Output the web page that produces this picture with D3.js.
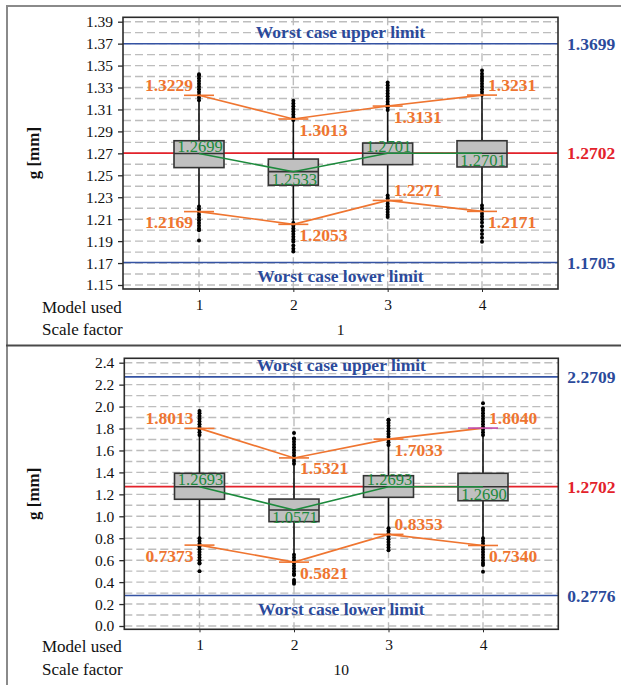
<!DOCTYPE html>
<html>
<head>
<meta charset="utf-8">
<script src="https://cdn.jsdelivr.net/npm/d3@7"></script>
<style>
  html, body { margin: 0; padding: 0; background: #fff; }
  svg { display: block; }
  svg text { font-family: "Liberation Serif", "Times New Roman", Tinos, "DejaVu Serif", "Noto Serif", serif !important; }
</style>
</head>
<body>
<svg id="chart" width="621" height="685"></svg>
<script>
// ---------------- DATA ----------------
const models = [1, 2, 3, 4];
const scaleFactors = ["1", "10"];
const axisTitle = "g [mm]";
const limitNames = ["Worst case upper limit", "Worst case lower limit"];

// Scale factor 1
const yTicks1 = [1.15, 1.17, 1.19, 1.21, 1.23, 1.25, 1.27, 1.29, 1.31, 1.33, 1.35, 1.37, 1.39];
const median1 = [1.2699, 1.2533, 1.2701, 1.2701];
const boxLow1 = [1.2570, 1.2410, 1.2597, 1.2576];
const boxHigh1 = [1.2815, 1.2648, 1.2794, 1.2815];
const whiskerLow1 = [1.2220, 1.2070, 1.2320, 1.2230];
const whiskerHigh1 = [1.3180, 1.3000, 1.3090, 1.3230];
const outliers1 = [
  [1.3185, 1.321, 1.3235, 1.326, 1.3285, 1.331, 1.3335, 1.336, 1.3385, 1.341, 1.342,
   1.2215, 1.219, 1.2165, 1.214, 1.2115, 1.209, 1.2065, 1.204, 1.2015, 1.2000, 1.1905],
  [1.3005, 1.303, 1.3055, 1.308, 1.3105, 1.313, 1.3155, 1.318,
   1.2065, 1.204, 1.2015, 1.199, 1.1965, 1.194, 1.1915, 1.1895, 1.186, 1.183, 1.1805],
  [1.3095, 1.312, 1.3145, 1.317, 1.3195, 1.322, 1.3245, 1.327, 1.3295, 1.332, 1.3345,
   1.2315, 1.229, 1.2265, 1.224, 1.2215, 1.219, 1.2165, 1.214, 1.212],
  [1.3235, 1.326, 1.3285, 1.331, 1.3335, 1.336, 1.338, 1.340, 1.3425, 1.3455,
   1.2225, 1.220, 1.2175, 1.215, 1.2125, 1.210, 1.207, 1.2035, 1.200, 1.1965, 1.193, 1.1895]
];
const upper1 = [1.3229, 1.3013, 1.3131, 1.3231];
const lower1 = [1.2169, 1.2053, 1.2271, 1.2171];
const limits1 = [1.3699, 1.2702, 1.1705];

// Scale factor 10
const yTicks10 = [0.0, 0.2, 0.4, 0.6, 0.8, 1.0, 1.2, 1.4, 1.6, 1.8, 2.0, 2.2, 2.4];
const median10 = [1.2693, 1.0571, 1.2693, 1.2690];
const boxLow10 = [1.155, 0.951, 1.173, 1.142];
const boxHigh10 = [1.392, 1.157, 1.370, 1.392];
const whiskerLow10 = [0.80, 0.65, 0.89, 0.80];
const whiskerHigh10 = [1.74, 1.48, 1.65, 1.74];
const outliers10 = [
  [1.74, 1.765, 1.79, 1.815, 1.84, 1.865, 1.89, 1.915, 1.94, 1.96,
   0.80, 0.775, 0.75, 0.725, 0.70, 0.675, 0.65, 0.625, 0.60, 0.575, 0.57, 0.50],
  [1.48, 1.505, 1.53, 1.555, 1.58, 1.605, 1.63, 1.655, 1.68, 1.705, 1.71, 1.76,
   0.65, 0.625, 0.60, 0.575, 0.55, 0.525, 0.50, 0.475, 0.465, 0.42, 0.40, 0.385],
  [1.65, 1.675, 1.70, 1.725, 1.75, 1.775, 1.80, 1.825, 1.85, 1.875, 1.88,
   0.89, 0.865, 0.84, 0.815, 0.79, 0.765, 0.74, 0.715, 0.69],
  [1.74, 1.765, 1.79, 1.815, 1.84, 1.865, 1.89, 1.915, 1.94, 1.965, 1.985, 2.03,
   0.80, 0.775, 0.75, 0.725, 0.70, 0.675, 0.65, 0.625, 0.60, 0.575, 0.555, 0.495]
];
const upper10 = [1.8013, 1.5321, 1.7033, 1.8040];
const lower10 = [0.7373, 0.5821, 0.8353, 0.7340];
const limits10 = [2.2709, 1.2702, 0.2776];

// ---------------- STYLE / LAYOUT ----------------
const FONT = '"Liberation Serif", "Times New Roman", Tinos, "DejaVu Serif", "Noto Serif", serif';
const C = {
  blue: "#3553a3", blueText: "#2b4a9b", red: "#e3222b", orange: "#ef7530",
  green: "#1c8a3c", grid: "#bdbdbd", box: "#c0c0c0", frame: "#2b2b2b", magenta: "#c04aa8"
};
const upperPlace = [["L", "A"], ["R", "B"], ["R", "B"], ["R", "A"]];
const lowerPlace1 = [["L", "B"], ["R", "B"], ["R", "A"], ["R", "B"]];
const greenPlace1 = ["A", "B", "A", "B"];

const svg = d3.select("#chart").attr("font-family", FONT);

// Panel frame
svg.append("line").attr("x1", 7).attr("x2", 621).attr("y1", 6).attr("y2", 6)
  .attr("stroke", "#8a8a8a").attr("stroke-width", 2);
svg.append("line").attr("x1", 7).attr("x2", 7).attr("y1", 5).attr("y2", 685)
  .attr("stroke", "#8a8a8a").attr("stroke-width", 2);
svg.append("line").attr("x1", 6).attr("x2", 621).attr("y1", 345.5).attr("y2", 345.5)
  .attr("stroke", "#4a4a4a").attr("stroke-width", 2.2);

function drawPanel(p) {
  const g = svg.append("g");
  const x = d3.scaleLinear().domain([1, 4]).range(p.xRange);
  const y = d3.scaleLinear().domain([p.ticks[0], p.ticks[p.ticks.length - 1]]).range(p.yRange);
  const [L, R] = p.plotX, [T, B] = p.plotY;

  const gridVals = d3.range(0, p.ticks.length * 2 - 1).map(i => p.ticks[0] + i * p.step / 2);
  g.append("g").selectAll("line").data(gridVals).join("line")
    .attr("x1", L).attr("x2", R).attr("y1", d => y(d)).attr("y2", d => y(d))
    .attr("stroke", C.grid).attr("stroke-width", 1.4).attr("stroke-dasharray", "8,4");
  g.append("g").selectAll("line").data(models).join("line")
    .attr("x1", d => x(d)).attr("x2", d => x(d)).attr("y1", T).attr("y2", B)
    .attr("stroke", C.grid).attr("stroke-width", 1.4).attr("stroke-dasharray", "8,4");

  const [uL, nom, lL] = p.limits;
  g.append("line").attr("x1", L).attr("x2", R).attr("y1", y(uL)).attr("y2", y(uL))
    .attr("stroke", C.blue).attr("stroke-width", 1.6);
  g.append("line").attr("x1", L).attr("x2", R).attr("y1", y(lL)).attr("y2", y(lL))
    .attr("stroke", C.blue).attr("stroke-width", 1.6);
  g.append("line").attr("x1", L).attr("x2", R).attr("y1", y(nom)).attr("y2", y(nom))
    .attr("stroke", C.red).attr("stroke-width", 1.6);

  models.forEach((m, i) => {
    g.append("line").attr("x1", x(m)).attr("x2", x(m))
      .attr("y1", y(p.whiskerHigh[i])).attr("y2", y(p.boxHigh[i]))
      .attr("stroke", "#111").attr("stroke-width", 1.6);
    g.append("line").attr("x1", x(m)).attr("x2", x(m))
      .attr("y1", y(p.boxLow[i])).attr("y2", y(p.whiskerLow[i]))
      .attr("stroke", "#111").attr("stroke-width", 1.6);
    g.append("g").selectAll("circle").data(p.outliers[i]).join("circle")
      .attr("cx", x(m)).attr("cy", d => y(d)).attr("r", 2).attr("fill", "#000");
  });

  const bw = 50;
  models.forEach((m, i) => {
    g.append("rect").attr("x", x(m) - bw / 2).attr("width", bw)
      .attr("y", y(p.boxHigh[i])).attr("height", y(p.boxLow[i]) - y(p.boxHigh[i]))
      .attr("fill", C.box).attr("stroke", "#333").attr("stroke-width", 1.6);
    g.append("line").attr("x1", x(m) - bw / 2).attr("x2", x(m) + bw / 2)
      .attr("y1", y(p.median[i])).attr("y2", y(p.median[i]))
      .attr("stroke", "#333").attr("stroke-width", 1.6);
  });

  const line = d3.line().x((d, i) => x(models[i])).y(d => y(d));
  g.append("path").attr("d", line(p.median)).attr("fill", "none")
    .attr("stroke", C.green).attr("stroke-width", 1.6);

  [p.upper, p.lower].forEach((arr, k) => {
    g.append("path").attr("d", line(arr)).attr("fill", "none")
      .attr("stroke", C.orange).attr("stroke-width", 1.6);
    arr.forEach((v, i) => {
      g.append("line").attr("x1", x(models[i]) - 15).attr("x2", x(models[i]) + 15)
        .attr("y1", y(v)).attr("y2", y(v))
        .attr("stroke", (p.magentaTick && k === 0 && i === 3) ? C.magenta : C.orange)
        .attr("stroke-width", 1.6);
    });
  });

  g.append("rect").attr("x", L).attr("y", T).attr("width", R - L).attr("height", B - T)
    .attr("fill", "none").attr("stroke", C.frame).attr("stroke-width", 1.6);

  const yAxis = d3.axisLeft(y).tickValues(p.ticks).tickFormat(d3.format(p.fmt))
    .tickSize(5).tickPadding(5);
  const ya = g.append("g").attr("transform", `translate(${L},0)`).call(yAxis)
    .attr("font-family", FONT);
  ya.select(".domain").remove();
  ya.selectAll("line").attr("stroke", C.frame).attr("stroke-width", 1.3);
  ya.selectAll("text").attr("font-size", 15.5).attr("fill", "#111");

  const xAxis = d3.axisBottom(x).tickValues(models).tickFormat(d3.format("d"))
    .tickSize(3).tickPadding(7);
  const xa = g.append("g").attr("transform", `translate(0,${B})`).call(xAxis)
    .attr("font-family", FONT);
  xa.select(".domain").remove();
  xa.selectAll("line").attr("stroke", C.frame);
  xa.selectAll("text").attr("font-size", 15.5).attr("fill", "#111");

  g.append("text").attr("x", 42).attr("y", p.rowY[0]).text("Model used")
    .attr("font-size", 17).attr("fill", "#111");
  g.append("text").attr("x", 42).attr("y", p.rowY[1]).text("Scale factor")
    .attr("font-size", 17).attr("fill", "#111");
  g.append("text").attr("x", (L + R) / 2).attr("y", p.rowY[1]).attr("text-anchor", "middle")
    .text(p.sf).attr("font-size", 15.5).attr("fill", "#111");

  g.append("text").attr("transform", `translate(38.5,${(T + B) / 2}) rotate(-90)`)
    .attr("text-anchor", "middle").attr("font-weight", "bold").attr("font-size", 17)
    .attr("fill", "#111").text(axisTitle);

  g.append("text").attr("x", (L + R) / 2).attr("y", y(uL) - 5.5).attr("text-anchor", "middle")
    .attr("font-weight", "bold").attr("font-size", 17.5).attr("fill", C.blueText).text(limitNames[0]);
  g.append("text").attr("x", (L + R) / 2).attr("y", y(lL) + 19.5).attr("text-anchor", "middle")
    .attr("font-weight", "bold").attr("font-size", 17.5).attr("fill", C.blueText).text(limitNames[1]);
  const rl = [[uL, C.blueText], [nom, C.red], [lL, C.blueText]];
  rl.forEach(([v, c]) => {
    g.append("text").attr("x", R + 9).attr("y", y(v) + 6).attr("font-weight", "bold")
      .attr("font-size", 17.5).attr("fill", c).text(d3.format(".4f")(v));
  });

  const placeLabel = (v, i, pl) => {
    const [h, vv] = pl;
    const px = x(models[i]), py = y(v);
    g.append("text")
      .attr("x", h === "L" ? px - 6 : px + 6)
      .attr("y", vv === "A" ? py - 4 : py + 16.5)
      .attr("text-anchor", h === "L" ? "end" : "start")
      .attr("font-weight", "bold").attr("font-size", 17.5).attr("fill", C.orange)
      .text(d3.format(".4f")(v));
  };
  p.upper.forEach((v, i) => placeLabel(v, i, upperPlace[i]));
  p.lower.forEach((v, i) => placeLabel(v, i, lowerPlace1[i]));

  p.median.forEach((v, i) => {
    g.append("text").attr("x", x(models[i]) + 1)
      .attr("y", greenPlace1[i] === "A" ? y(v) - 1.5 : y(v) + 13)
      .attr("text-anchor", "middle").attr("font-size", 16.5).attr("fill", C.green)
      .text(d3.format(".4f")(v));
  });
}

drawPanel({
  ticks: yTicks1, step: 0.02, fmt: ".2f",
  xRange: [199, 482], yRange: [285, 21.7], plotX: [123, 558], plotY: [17.3, 289],
  median: median1, boxLow: boxLow1, boxHigh: boxHigh1,
  whiskerLow: whiskerLow1, whiskerHigh: whiskerHigh1, outliers: outliers1,
  upper: upper1, lower: lower1, limits: limits1, sf: scaleFactors[0],
  rowY: [312.5, 335], magentaTick: false
});
drawPanel({
  ticks: yTicks10, step: 0.2, fmt: ".1f",
  xRange: [199.5, 483], yRange: [626, 362.7], plotX: [124.3, 558.3], plotY: [358.3, 629.3],
  median: median10, boxLow: boxLow10, boxHigh: boxHigh10,
  whiskerLow: whiskerLow10, whiskerHigh: whiskerHigh10, outliers: outliers10,
  upper: upper10, lower: lower10, limits: limits10, sf: scaleFactors[1],
  rowY: [652, 675], magentaTick: true
});
</script>
</body>
</html>
